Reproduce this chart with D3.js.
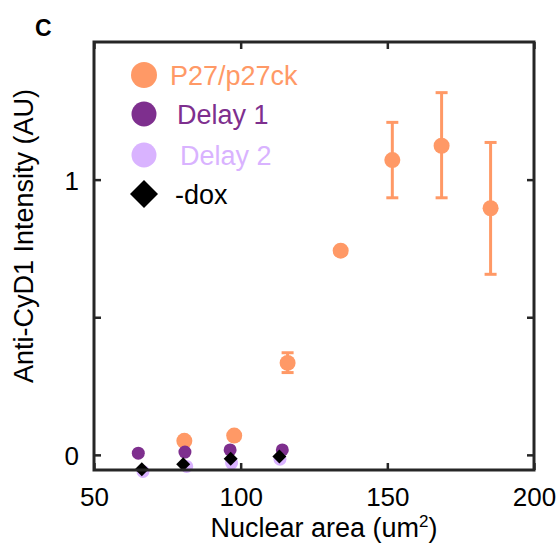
<!DOCTYPE html>
<html>
<head>
<meta charset="utf-8">
<script src="https://d3js.org/d3.v7.min.js"></script>
<style>
body { margin: 0; background: #fff; }
text { font-family: "Liberation Sans", Arial, sans-serif; }
</style>
</head>
<body>
<div id="chart"></div>
<script>

// P27/p27ck series (mean with error bar limits)
var p27Area = [80.8, 97.8, 116.0, 134.1, 151.7, 168.5, 185.2];
var p27Int  = [0.051, 0.070, 0.334, 0.742, 1.071, 1.123, 0.896];
var p27Lo   = [0.051, 0.070, 0.299, 0.735, 0.934, 0.934, 0.656];
var p27Hi   = [0.051, 0.070, 0.371, 0.749, 1.208, 1.316, 1.135];

var delay1Area = [65.1, 81.0, 96.4, 114.2];
var delay1Int  = [0.006, 0.010, 0.018, 0.018];

var delay2Area = [66.7, 81.6, 96.9, 113.4];
var delay2Int  = [-0.060, -0.042, -0.030, -0.016];

var doxArea = [66.3, 80.4, 96.6, 113.2];
var doxInt  = [-0.052, -0.034, -0.0145, -0.006];

var xTicks = [50, 100, 150, 200];
var yTicks = [0, 0.5, 1];
var yTickLabels = ["0", "", "1"];

var legendNames = ["P27/p27ck", "Delay 1", "Delay 2", "-dox"];

var orange = "#ff9966", purple = "#7e2f8e", lavender = "#d9b3ff", black = "#000";

var margin = {top: 42, right: 26, bottom: 78, left: 94},
    width = 560 - margin.left - margin.right,
    height = 548 - margin.top - margin.bottom;

var x = d3.scaleLinear().domain([50, 200]).range([0, width]);
var y = d3.scaleLinear().domain([-0.055, 1.5]).range([height, 0]);

var svg = d3.select("#chart").append("svg")
    .attr("width", 560)
    .attr("height", 548);

svg.append("text")
    .attr("x", 35).attr("y", 36)
    .style("font-size", "23px")
    .style("font-weight", "bold")
    .text("C");

var g = svg.append("g")
    .attr("transform", "translate(" + margin.left + "," + margin.top + ")");

function diamond(size) {
  return d3.symbol().type(d3.symbolSquare).size(size)();
}

// error bars
var p27 = p27Area.map(function(a, i) {
  return {x: a, y: p27Int[i], lo: p27Lo[i], hi: p27Hi[i]};
});

var eb = g.selectAll(".eb").data(p27).enter().append("g")
    .attr("class", "eb")
    .style("stroke", orange)
    .style("stroke-width", 3);
eb.append("line")
    .attr("x1", function(d) { return x(d.x); })
    .attr("x2", function(d) { return x(d.x); })
    .attr("y1", function(d) { return y(d.lo); })
    .attr("y2", function(d) { return y(d.hi); });
eb.filter(function(d) { return d.hi - d.lo > 0.03; }).each(function(d) {
  var s = d3.select(this);
  [d.lo, d.hi].forEach(function(v) {
    s.append("line")
      .attr("x1", x(d.x) - 6).attr("x2", x(d.x) + 6)
      .attr("y1", y(v)).attr("y2", y(v));
  });
});

g.selectAll(".p27").data(p27).enter().append("circle")
    .attr("class", "p27")
    .attr("cx", function(d) { return x(d.x); })
    .attr("cy", function(d) { return y(d.y); })
    .attr("r", 8)
    .style("fill", orange);

g.selectAll(".d1").data(delay1Area).enter().append("circle")
    .attr("class", "d1")
    .attr("cx", function(d) { return x(d); })
    .attr("cy", function(d, i) { return y(delay1Int[i]); })
    .attr("r", 6.5)
    .style("fill", purple);

g.selectAll(".d2").data(delay2Area).enter().append("circle")
    .attr("class", "d2")
    .attr("cx", function(d) { return x(d); })
    .attr("cy", function(d, i) { return y(delay2Int[i]); })
    .attr("r", 6.5)
    .style("fill", lavender);

g.selectAll(".dox").data(doxArea).enter().append("path")
    .attr("class", "dox")
    .attr("d", diamond(2 * 7 * 7))
    .attr("transform", function(d, i) {
      return "translate(" + x(d) + "," + y(doxInt[i]) + ") rotate(45)";
    })
    .style("fill", black);

// axes (inward ticks, box)
var axB = g.append("g")
    .attr("transform", "translate(0," + height + ")")
    .call(d3.axisBottom(x).tickValues(xTicks).tickSizeInner(-7).tickSizeOuter(0).tickPadding(18));
var axT = g.append("g")
    .call(d3.axisTop(x).tickValues(xTicks).tickSizeInner(-7).tickSizeOuter(0).tickFormat(""));
var axL = g.append("g")
    .call(d3.axisLeft(y).tickValues(yTicks).tickSizeInner(-7).tickSizeOuter(0).tickPadding(15)
      .tickFormat(function(d, i) { return yTickLabels[i]; }));
var axR = g.append("g")
    .attr("transform", "translate(" + width + ",0)")
    .call(d3.axisRight(y).tickValues(yTicks).tickSizeInner(-7).tickSizeOuter(0).tickFormat(""));

[axB, axT, axL, axR].forEach(function(a) {
  a.select(".domain").remove();
  a.selectAll("line").style("stroke", "#262626").style("stroke-width", 2.5);
  a.selectAll("text")
    .style("font-size", "26px")
    .style("font-family", "'Liberation Sans', Arial, sans-serif")
    .style("fill", "#000");
});
axL.selectAll("text").attr("dy", "0.38em");

g.append("rect")
    .attr("x", 0).attr("y", 0)
    .attr("width", width).attr("height", height)
    .style("fill", "none")
    .style("stroke", "#262626")
    .style("stroke-width", 3);

// axis titles
var xl = svg.append("text")
    .attr("x", 324).attr("y", 537)
    .style("text-anchor", "middle")
    .style("font-size", "27px");
xl.append("tspan").text("Nuclear area (um");
xl.append("tspan").attr("dy", -10).style("font-size", "17px").text("2");
xl.append("tspan").attr("dy", 10).text(")");

svg.append("text")
    .attr("transform", "translate(33,236) rotate(-90)")
    .style("text-anchor", "middle")
    .style("font-size", "27px")
    .text("Anti-CyD1 Intensity (AU)");

// legend
var legColors = [orange, purple, lavender, black];
var legY = [75, 114, 155, 194];
var legTextX = [170, 177, 180, 175];
var leg = svg.selectAll(".leg").data(legendNames).enter().append("g")
    .attr("class", "leg");
leg.each(function(d, i) {
  var s = d3.select(this);
  if (i < 3) {
    s.append("circle")
      .attr("cx", 144).attr("cy", legY[i])
      .attr("r", i == 0 ? 13 : 12.5)
      .style("fill", legColors[i]);
  } else {
    s.append("path")
      .attr("d", diamond(2 * 14 * 14))
      .attr("transform", "translate(144," + legY[i] + ") rotate(45)")
      .style("fill", black);
  }
  s.append("text")
    .attr("x", legTextX[i]).attr("y", legY[i] + 10)
    .style("font-size", "27px")
    .style("fill", legColors[i])
    .text(d);
});

</script>
</body>
</html>
